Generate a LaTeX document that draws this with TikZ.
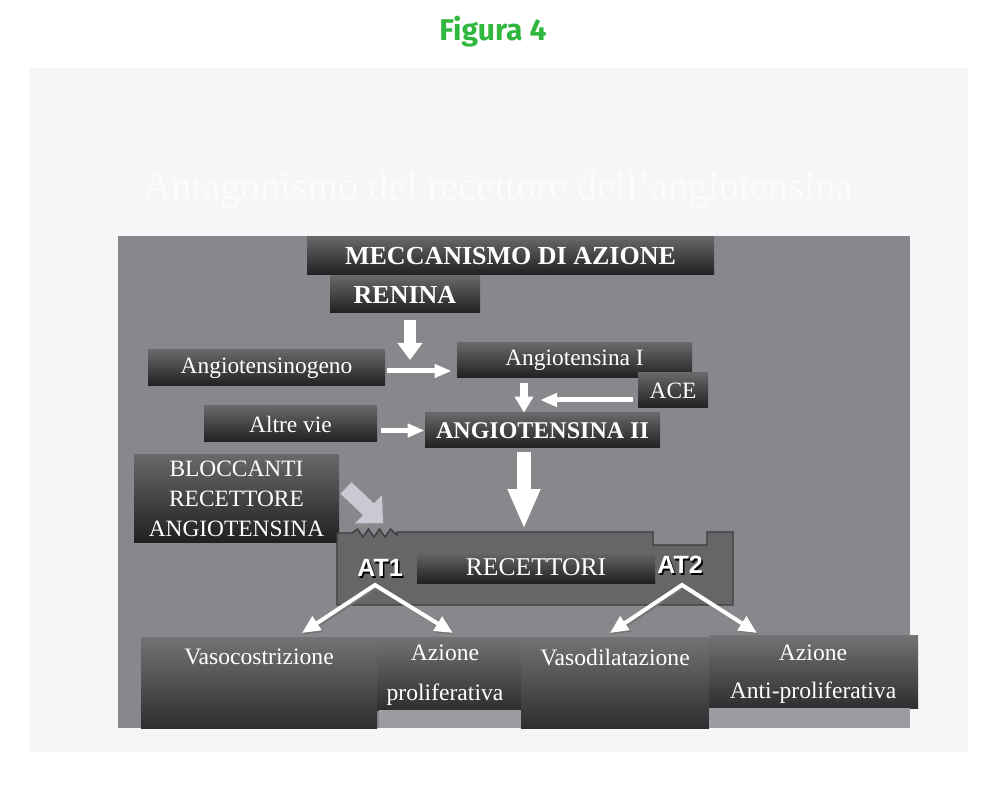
\documentclass[tikz,border=0pt]{standalone}
\usepackage{fontspec}
\setmainfont{Liberation Serif}
\newfontfamily\sansb{Liberation Sans}
\newfontfamily\figfont{Fira Sans}
\usetikzlibrary{arrows.meta,calc}
\definecolor{pagebg}{RGB}{246,246,249}
\definecolor{faint}{RGB}{252,252,253}
\definecolor{panelgray}{RGB}{136,136,140}
\definecolor{figgreen}{RGB}{48,184,62}
\definecolor{boxtop}{RGB}{104,104,106}
\definecolor{boxbot}{RGB}{32,32,34}
\definecolor{lowtop}{RGB}{115,115,117}
\definecolor{lowbot}{RGB}{46,46,48}
\definecolor{recfill}{RGB}{102,102,104}
\definecolor{recedge}{RGB}{60,60,62}
\definecolor{lightrect}{RGB}{156,156,160}
\definecolor{blockgray}{RGB}{200,201,210}
\tikzset{
  dbox/.style={rectangle, inner sep=0pt, top color=boxtop, bottom color=boxbot, text=white},
  lbox/.style={rectangle, inner sep=0pt, top color=lowtop, bottom color=lowbot},
  fbold/.style={font=\bfseries\fontsize{13}{15}\selectfont},
  fbolds/.style={font=\bfseries\fontsize{12}{14}\selectfont},
  freg/.style={font=\fontsize{11.7}{15}\selectfont},
  lowtext/.style={text=white, inner sep=0pt, font=\fontsize{11.8}{14}\selectfont},
  atlabel/.style={text=white, inner sep=0pt, font=\sansb\bfseries\fontsize{12.5}{14}\selectfont},
  atshadow/.style={text=black, inner sep=0pt, font=\sansb\bfseries\fontsize{12.5}{14}\selectfont},
  bigA/.style={draw=white, line width=7pt, -{Triangle[width=15pt,length=20pt]}},
  midA/.style={draw=white, line width=6pt, -{Triangle[width=12pt,length=8.5pt]}},
  smallA/.style={draw=white, line width=4pt, -{Triangle[width=9pt,length=8pt]}},
  thinA/.style={draw=white, line width=2.5pt, -{Triangle[width=6.5pt,length=8.5pt]}},
  atA/.style={draw=white, line width=2pt, line join=miter, {Triangle[width=8pt,length=9pt]}-{Triangle[width=8pt,length=9pt]}},
  atS/.style={draw=black!55, line width=2pt, line join=miter, {Triangle[width=8pt,length=9pt]}-{Triangle[width=8pt,length=9pt]}},
  grayA/.style={draw=blockgray, line width=8pt, -{Triangle[width=19pt,length=10pt]}},
  grayS/.style={draw=black!45, line width=8pt, -{Triangle[width=19pt,length=10pt]}}
}
\begin{document}
\begin{tikzpicture}[x=0.5pt,y=-0.5pt]
\useasboundingbox (0,0) rectangle (1000,785);
\fill[white] (0,0) rectangle (1000,785);
\fill[pagebg] (30,68) rectangle (968,752);
\node[text=faint, inner sep=0pt, font=\fontsize{20}{24}\selectfont] (sub) at (498,190) {Antagonismo del recettore dell'angiotensina};
\node[text=figgreen, inner sep=0pt, font=\figfont\bfseries\fontsize{15}{18}\selectfont] (fig) at (493,32) {Figura 4};
% grey panel
\fill[panelgray] (118,236) rectangle (910,728);
% upper boxes
\node[dbox, fbold, minimum width=203.5pt, minimum height=19pt] (mec) at (510.5,256) {MECCANISMO DI AZIONE};
\node[dbox, fbold, minimum width=75pt, minimum height=18.5pt] (ren) at (405,294.5) {RENINA};
\node[dbox, freg, minimum width=118.5pt, minimum height=18pt] (ang0) at (266.5,368) {Angiotensinogeno};
\node[dbox, freg, minimum width=117.5pt, minimum height=17.5pt] (ang1) at (574.5,360.5) {Angiotensina I};
\node[dbox, freg, minimum width=35pt, minimum height=17.5pt] (ace) at (673,390.5) {ACE};
\node[dbox, freg, minimum width=86.5pt, minimum height=18pt] (altre) at (290.5,424) {Altre vie};
\node[dbox, fbolds, minimum width=117.5pt, minimum height=17.5pt] (ang2) at (542.5,430.5) {ANGIOTENSINA II};
\node[dbox, freg, align=center, minimum width=102.5pt, minimum height=43.5pt] (bloc) at (236.5,498.5) {BLOCCANTI\\RECETTORE\\ANGIOTENSINA};
% receptor
\draw[fill=recfill, draw=recedge, line width=0.7pt]
  (337,605) -- (337,533) -- (352,533) -- (357.5,529) -- (363,537) -- (368.5,529) -- (374,537)
  -- (379.5,529) -- (385,537) -- (390.5,529) -- (397,535) -- (397,532) -- (653,532) -- (653,545)
  -- (707,545) -- (707,532) -- (733,532) -- (733,605) -- cycle;
\coordinate (recTop) at (524,529);
\node[rectangle, inner sep=0pt, top color=boxtop, bottom color=boxbot, text=white,
      font=\fontsize{12.8}{15}\selectfont, minimum width=119pt, minimum height=15.5pt] (rec) at (536,567.5) {RECETTORI};
\node[atshadow] at (381.5,569.5) {AT1};
\node[atlabel] (at1) at (380,568) {AT1};
\node[atshadow] at (681.5,566.5) {AT2};
\node[atlabel] (at2) at (680,565) {AT2};
% lower boxes
\node[lbox, minimum width=118pt, minimum height=45.5pt] (vc) at (259,682.5) {};
\node[lbox, minimum width=72pt, minimum height=36.5pt] (az1) at (449,673.5) {};
\fill[lightrect] (379,710) rectangle (521,728);
\node[lbox, minimum width=94pt, minimum height=45.5pt] (vd) at (615,682.5) {};
\node[lbox, minimum width=104.5pt, minimum height=36.5pt] (az2) at (813.5,671.5) {};
\fill[lightrect] (709,708) rectangle (910,728);
\node[lowtext] (tvc) at (259,657) {Vasocostrizione};
\node[lowtext] (taz1) at (445,653) {Azione};
\node[lowtext] (tpro) at (445,695) {proliferativa};
\node[lowtext] (tvd) at (615,657) {Vasodilatazione};
\node[lowtext] (taz2) at (813,653) {Azione};
\node[lowtext] (tapro) at (813,693) {Anti-proliferativa};
% arrows upper
\coordinate (renTip) at (410,360);
\draw[midA] ($(ren.south -| renTip)+(0,7)$) -- (renTip);
\draw[thinA] ($(ang0.east)+(2,3)$) -- ($(ang1.west)+(-5,10.5)$);
\coordinate (aceTip) at (540,400);
\draw[thinA] ($(ace.west)+(-5,9.5)$) -- (aceTip);
\coordinate (dX) at (524,0);
\draw[smallA] ($(ang1.south -| dX)+(0,5)$) -- (ang2.north -| dX);
\draw[thinA] ($(altre.east |- ang2.west)+(4,0)$) -- (ang2.west);
\draw[bigA] ($(ang2.south -| recTop)+(0,4)$) -- (recTop);
% blocker arrow
\coordinate (blocTip) at (383,523);
\coordinate (blocTail) at (346,488);
\draw[grayS] ($(blocTail)+(2.5,2.5)$) -- ($(blocTip)+(2.5,2.5)$);
\draw[grayA] (blocTail) -- (blocTip);
% AT arrows
\coordinate (at1v) at (375,585);
\coordinate (t1) at (302,633);
\coordinate (t2) at (453,633);
\coordinate (at2v) at (682,585);
\coordinate (t3) at (610,633);
\coordinate (t4) at (757,633);
\draw[atS] ($(t1)+(1.5,1.5)$) -- ($(at1v)+(1.5,1.5)$) -- ($(t2)+(1.5,1.5)$);
\draw[atA] (t1) -- (at1v) -- (t2);
\draw[atS] ($(t3)+(1.5,1.5)$) -- ($(at2v)+(1.5,1.5)$) -- ($(t4)+(1.5,1.5)$);
\draw[atA] (t3) -- (at2v) -- (t4);
\end{tikzpicture}
\end{document}
